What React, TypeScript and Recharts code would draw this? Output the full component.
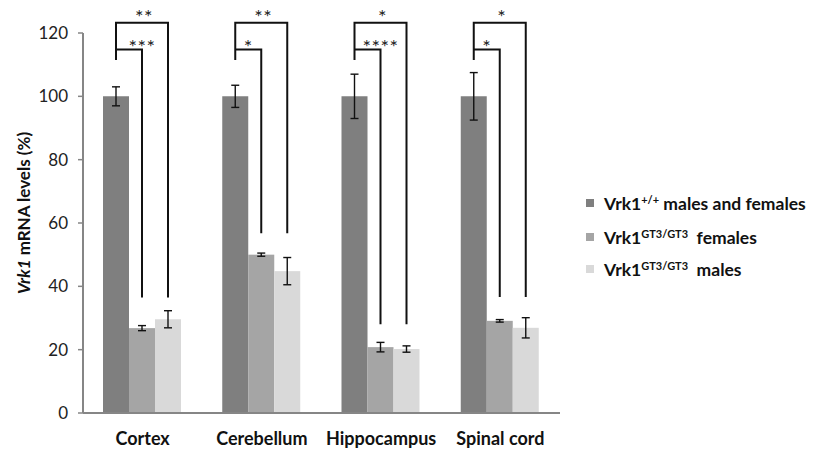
import { BarChart, Bar, XAxis, YAxis, ErrorBar } from 'recharts';

// ── Data ──────────────────────────────────────────────────────────────────────

const regions = ['Cortex', 'Cerebellum', 'Hippocampus', 'Spinal cord'];
const wildType = [100, 100, 100, 100];
const wildTypeErr = [3, 3.5, 7, 7.5];
const females = [26.8, 50, 20.8, 29.1];
const femalesErr = [0.8, 0.5, 1.5, 0.4];
const males = [29.6, 44.8, 20.2, 26.9];
const malesErr = [2.7, 4.3, 1, 3.2];
const yTicks = [0, 20, 40, 60, 80, 100, 120];

// significance brackets (values on the y scale)
const outerTop = 123.2;
const innerTop = 114.8;
const leftEnd = 111.5;
const rightEnd = [36.5, 56.8, 28, 36.6];
const outerStars = ['**', '**', '*', '*'];
const innerStars = ['***', '*', '****', '*'];

const data = regions.map((name, i) => ({
  name,
  wt: wildType[i],
  wtErr: wildTypeErr[i],
  fem: females[i],
  femErr: femalesErr[i],
  male: males[i],
  maleErr: malesErr[i],
}));

const FONT = 'Lato, sans-serif';
const AXIS = '#868686';
const INK = '#111';

// ── Bar shapes that also draw the brackets ────────────────────────────────────

function FemaleBar(props: any) {
  const { x, y, width, height, fill, payload, index } = props;
  const base = y + height;
  const ppu = height / payload.fem;
  const toY = (v: number) => base - v * ppu;
  const cx = x + width / 2;
  const lx = cx - width;
  const stars = innerStars[index];
  const sx = stars.length > 1 ? cx : (lx + cx) / 2;
  return (
    <g>
      <rect x={x} y={y} width={width} height={height} fill={fill} />
      <polyline
        points={`${lx},${toY(innerTop)} ${cx},${toY(innerTop)} ${cx},${toY(rightEnd[index])}`}
        fill="none"
        stroke={INK}
        strokeWidth={2}
      />
      <text x={sx} y={toY(innerTop) + 5} textAnchor="middle" fontFamily={FONT} fontSize={20} fill="#222" stroke="none" letterSpacing={0.5}>
        {stars}
      </text>
    </g>
  );
}

function MaleBar(props: any) {
  const { x, y, width, height, fill, payload, index } = props;
  const base = y + height;
  const ppu = height / payload.male;
  const toY = (v: number) => base - v * ppu;
  const cx = x + width / 2;
  const lx = cx - 2 * width;
  return (
    <g>
      <rect x={x} y={y} width={width} height={height} fill={fill} />
      <polyline
        points={`${lx},${toY(leftEnd)} ${lx},${toY(outerTop)} ${cx},${toY(outerTop)} ${cx},${toY(rightEnd[index])}`}
        fill="none"
        stroke={INK}
        strokeWidth={2}
      />
      <text x={(lx + cx) / 2 + 2} y={toY(outerTop) + 1} textAnchor="middle" fontFamily={FONT} fontSize={20} fill="#222" stroke="none" letterSpacing={0.5}>
        {outerStars[index]}
      </text>
    </g>
  );
}

function CategoryTick({ x, y, payload }: any) {
  return (
    <text x={x} y={y + 30} textAnchor="middle" fontFamily={FONT} fontWeight={700} fontSize={18} fill={INK}>
      {payload.value}
    </text>
  );
}

function YLabel({ viewBox }: any) {
  const cy = viewBox.y + viewBox.height / 2 - 10;
  return (
    <text transform={`translate(23,${cy}) rotate(-90)`} textAnchor="middle" dominantBaseline="central" fontFamily={FONT} fontWeight={700} fontSize={17} fill={INK}>
      <tspan fontStyle="italic">Vrk1</tspan>
      <tspan> mRNA levels (%)</tspan>
    </text>
  );
}

// ── Legend ────────────────────────────────────────────────────────────────────

const legendItems = [
  { color: '#7f7f7f', sup: '+/+', rest: ' males and females', top: 203 },
  { color: '#a5a5a5', sup: 'GT3/GT3', rest: '\u00a0 females', top: 237 },
  { color: '#d9d9d9', sup: 'GT3/GT3', rest: '\u00a0 males', top: 269 },
];

function ChartLegend() {
  return (
    <>
      {legendItems.map((it) => (
        <div
          key={it.color}
          style={{
            position: 'absolute',
            left: 586,
            top: it.top - 11,
            height: 22,
            display: 'flex',
            alignItems: 'center',
            fontFamily: FONT,
            fontWeight: 700,
            fontSize: 17.5,
            color: INK,
            whiteSpace: 'nowrap',
          }}
        >
          <span style={{ width: 8, height: 8, background: it.color, marginRight: 10, display: 'inline-block' }} />
          <span>
            Vrk1<sup style={{ fontSize: 11, verticalAlign: 0, position: 'relative', top: -6 }}>{it.sup}</sup>
            {it.rest}
          </span>
        </div>
      ))}
    </>
  );
}

// ── Chart ─────────────────────────────────────────────────────────────────────

export default function App() {
  return (
    <div style={{ position: 'absolute', left: 0, top: 0, width: 814, height: 450, background: '#fff' }}>
      <BarChart
        width={814}
        height={450}
        data={data}
        margin={{ top: 33, right: 254, bottom: 0, left: 0 }}
        barCategoryGap={20}
        barGap={0}
      >
        <XAxis
          dataKey="name"
          height={37}
          axisLine={{ stroke: AXIS, strokeWidth: 2 }}
          tickLine={false}
          tickSize={0}
          tick={<CategoryTick />}
          interval={0}
        />
        <YAxis
          width={83}
          domain={[0, 120]}
          ticks={yTicks}
          interval={0}
          axisLine={{ stroke: AXIS, strokeWidth: 2 }}
          tickLine={{ stroke: AXIS, strokeWidth: 1.5 }}
          tickSize={5}
          tickMargin={10}
          tick={{ fontFamily: FONT, fontSize: 17, fill: '#222' }}
          label={{ content: <YLabel /> }}
        />
        <Bar dataKey="wt" fill="#7f7f7f" isAnimationActive={false}>
          <ErrorBar dataKey="wtErr" width={4} stroke={INK} strokeWidth={1.4} direction="y" />
        </Bar>
        <Bar dataKey="fem" fill="#a5a5a5" shape={<FemaleBar />} isAnimationActive={false}>
          <ErrorBar dataKey="femErr" width={4} stroke={INK} strokeWidth={1.4} direction="y" />
        </Bar>
        <Bar dataKey="male" fill="#d9d9d9" shape={<MaleBar />} isAnimationActive={false}>
          <ErrorBar dataKey="maleErr" width={4} stroke={INK} strokeWidth={1.4} direction="y" />
        </Bar>
      </BarChart>
      <ChartLegend />
    </div>
  );
}
